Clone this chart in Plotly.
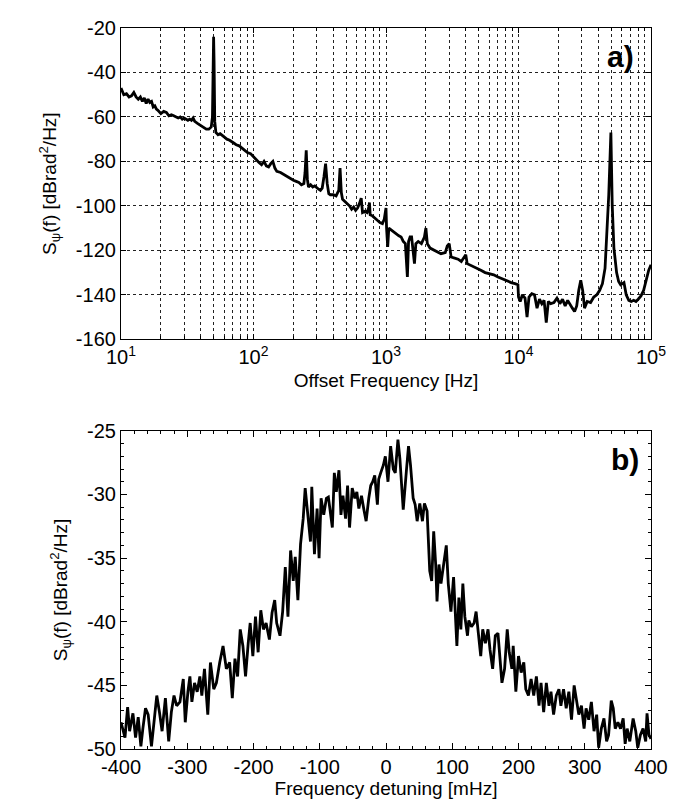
import plotly.graph_objects as go
from plotly.subplots import make_subplots

# ---------------- Panel a) phase noise spectrum ----------------
freq_hz = [10.0, 10.5, 11.0, 11.5, 12.0, 12.5, 13.0, 13.5, 14.0, 14.5, 15.0, 15.5, 16.0, 16.5,
           17.0, 17.5, 18.0, 18.5, 19.0, 20.0, 21.0, 22.0, 23.0, 24.0, 25.0, 26.0, 27.0, 28.0,
           29.0, 30.0, 31.0, 32.0, 33.0, 34.0, 35.0, 36.0, 38.0, 40.0, 42.0, 44.0, 46.0, 48.0,
           49.0, 49.6, 50.0, 50.4, 51.0, 52.0, 54.0, 56.0, 58.0, 60.0, 63.0, 66.0, 70.0, 74.0,
           78.0, 82.0, 86.0, 90.0, 95.0, 100.0, 105.0, 110.0, 115.0, 120.0, 125.0, 130.0, 135.0,
           140.0, 145.0, 150.0, 160.0, 170.0, 180.0, 190.0, 200.0, 210.0, 220.0, 230.0, 240.0,
           245.0, 250.0, 255.0, 260.0, 270.0, 280.0, 290.0, 300.0, 310.0, 320.0, 330.0, 340.0,
           350.0, 360.0, 370.0, 380.0, 400.0, 420.0, 440.0, 450.0, 460.0, 470.0, 490.0, 510.0,
           530.0, 550.0, 570.0, 590.0, 610.0, 630.0, 650.0, 665.0, 690.0, 720.0, 740.0, 750.0,
           760.0, 790.0, 820.0, 860.0, 900.0, 940.0, 970.0, 990.0, 1000.0, 1010.0, 1030.0,
           1050.0, 1100.0, 1150.0, 1200.0, 1250.0, 1300.0, 1350.0, 1400.0, 1430.0, 1450.0,
           1480.0, 1520.0, 1560.0, 1600.0, 1640.0, 1680.0, 1750.0, 1850.0, 1950.0, 2000.0,
           2050.0, 2150.0, 2300.0, 2450.0, 2600.0, 2800.0, 2900.0, 3000.0, 3100.0, 3300.0,
           3500.0, 3700.0, 3900.0, 4000.0, 4100.0, 4400.0, 4800.0, 5200.0, 5600.0, 6000.0,
           6500.0, 7000.0, 7600.0, 8200.0, 8800.0, 9400.0, 9900.0, 10000.0, 10300.0, 10700.0,
           11200.0, 11600.0, 12000.0, 12600.0, 13200.0, 13800.0, 14400.0, 15000.0, 15600.0,
           16200.0, 16800.0, 17500.0, 18500.0, 19500.0, 20500.0, 21500.0, 22500.0, 23500.0,
           24500.0, 25500.0, 26500.0, 27500.0, 28500.0, 29500.0, 30500.0, 31500.0, 33000.0,
           35000.0, 37000.0, 39000.0, 41000.0, 43000.0, 45000.0, 46500.0, 48000.0, 49800.0,
           51000.0, 52500.0, 55000.0, 57000.0, 59000.0, 62500.0, 65000.0, 68000.0, 71000.0,
           74000.0, 77000.0, 80000.0, 84000.0, 88000.0, 92000.0, 96000.0, 100000.0]
s_psi_a = [-47, -50, -49.5, -51, -50.5, -49, -51, -52, -51, -53, -51.5, -54, -52, -53.5,
           -53, -55.5, -55, -56.5, -57, -58.5, -57.5, -58, -59.5, -59, -59.5, -60, -60.5, -60,
           -61, -60.5, -61, -61.5, -61, -61.5, -60.5, -62, -63, -64, -65, -65.5, -65.5, -64.5,
           -60, -35, -24, -35, -62, -67, -68, -67.5, -68.5, -69, -70, -70.5, -71.5, -72.5,
           -73, -74, -75, -76, -76.5, -78, -79, -80.5, -81.5, -80, -82, -82.5, -81,
           -80, -83, -84.5, -85, -86, -87, -87.5, -88.5, -89, -89.5, -90.5, -90,
           -85, -75, -88, -91.5, -90.5, -91.5, -91, -92, -92.5, -93, -92, -87,
           -81, -90, -94.5, -95, -95, -95.5, -93, -83, -94, -97, -98, -99,
           -100, -101.5, -100.5, -102, -101, -99, -96.5, -103, -102.5, -103, -101, -98.5,
           -104, -104.5, -105.5, -106.5, -107.5, -108, -106, -102, -101, -110, -118.5,
           -110, -111, -112, -113, -113.5, -114, -116, -117, -125, -132,
           -116, -114, -114, -120, -126, -117, -116, -117, -114, -110,
           -117, -119, -120, -121, -121.5, -121, -118, -117, -123, -123.5,
           -124, -125, -123, -122, -126, -127, -128, -129, -130, -130.5,
           -131, -132, -133, -134, -134.5, -135, -135.5, -141, -143, -140,
           -141.5, -150, -141, -139.5, -140, -146, -142, -144, -142.5,
           -152.5, -143, -144, -143.5, -141.5, -144, -142, -145, -142.5,
           -144, -146, -147.5, -145, -138, -133.5, -138, -146, -143,
           -143.5, -141, -140, -138, -135, -128, -112, -95, -67,
           -100, -119, -130, -134, -135.5, -134.5, -140, -142.5, -143,
           -142.5, -143, -142, -140.5, -138, -133, -129, -126.5]

# ---------------- Panel b) spectrum around carrier ----------------
detuning_mhz = [-400, -394, -390, -387, -382, -378, -374, -370, -367, -363, -359, -354, -349, -346,
                -342, -338, -333, -328, -324, -320, -316, -311, -306, -303, -299, -296, -293, -289,
                -285, -281, -278, -274, -269, -265, -260, -256, -251, -246, -241, -236, -232, -228,
                -224, -220, -216, -212, -208, -205, -201, -197, -193, -189, -185, -181, -176, -172,
                -168, -165, -160, -156, -152, -148, -144, -140, -137, -133, -129, -125, -122, -118,
                -114, -112, -108, -104, -101, -98, -94, -90, -87, -81, -78, -75, -71, -68, -65,
                -61, -58, -55, -51, -47, -44, -41, -37, -33, -30, -26, -23, -20, -17, -13, -11,
                -8, -4, -1, 3, 7, 11, 14, 18, 21, 26, 31, 34, 37, 41, 44, 47, 51, 55, 58, 62, 66,
                69, 72, 75, 77, 80, 83, 87, 91, 94, 98, 102, 105, 107, 110, 113, 116, 119, 123,
                125, 129, 133, 136, 140, 143, 146, 150, 154, 157, 161, 165, 169, 172, 175, 179,
                183, 186, 190, 192, 196, 200, 204, 208, 211, 215, 219, 223, 227, 231, 234, 238,
                242, 246, 249, 253, 257, 261, 264, 268, 272, 276, 280, 284, 287, 291, 295, 299,
                302, 306, 310, 314, 318, 321, 325, 329, 333, 336, 340, 343, 346, 350, 354, 358,
                361, 364, 368, 373, 377, 380, 384, 388, 392, 394, 397, 400]
s_psi_b = [-47.9, -49.1, -46.7, -48.6, -47.2, -49.1, -47.5, -49.8, -48.4, -46.8, -47.3, -49.8, -47.3, -45.8,
           -47.1, -48.6, -46.0, -49.4, -47.1, -45.8, -46.6, -46.3, -44.5, -47.9, -45.5, -44.3, -46.3, -44.8,
           -45.5, -44.3, -45.8, -43.7, -47.3, -43.2, -45.3, -44.8, -43.2, -41.9, -43.7, -43.2, -46.0, -42.9,
           -44.3, -40.6, -41.9, -44.3, -41.7, -40.1, -42.7, -39.6, -42.4, -39.1, -40.6, -40.1, -41.4, -39.3,
           -38.3, -40.1, -41.1, -39.2, -35.7, -39.6, -34.4, -36.8, -34.9, -38.3, -33.9, -31.9, -29.5, -31.6,
           -33.7, -29.4, -34.7, -31.1, -35.0, -30.3, -31.6, -30.3, -30.2, -32.6, -28.3, -29.8, -28.1, -31.6, -30.1,
           -31.9, -29.3, -32.6, -29.5, -30.3, -29.8, -31.1, -30.1, -31.3, -32.1, -30.3, -29.3, -29.0, -28.5, -30.8, -28.8,
           -28.3, -27.7, -27.0, -29.0, -26.2, -28.0, -28.3, -25.7, -27.2, -31.2, -28.0, -26.2, -27.7, -30.3, -30.8, -32.1, -30.7, -32.1, -30.7, -31.3, -36.0,
           -36.8, -32.9, -35.5, -38.4, -35.5, -37.0, -35.5, -34.0, -37.0, -39.2, -36.5, -40.4, -41.9, -38.1, -40.6, -37.0, -39.6, -41.1,
           -39.9, -40.4, -40.1, -39.2, -41.1, -42.7, -40.6, -41.7, -40.6, -42.2, -43.7, -41.1, -40.9, -43.2, -44.8, -43.7,
           -40.6, -42.4, -43.7, -41.9, -45.5, -42.7, -44.0, -43.2, -45.3, -45.8, -44.5, -45.8, -44.3, -46.6, -44.8, -47.1,
           -44.8, -46.6, -45.5, -47.3, -45.8, -45.3, -46.6, -45.3, -46.8, -45.5, -47.7, -45.0, -46.1, -47.3, -46.6, -48.4,
           -46.8, -47.7, -46.3, -48.6, -47.3, -49.9, -48.4, -47.6, -49.4, -48.9, -46.2, -46.8, -48.4, -47.9, -48.4, -47.6,
           -49.6, -48.4, -49.4, -47.6, -48.6, -49.9, -48.9, -48.4, -49.4, -47.2, -48.9, -49.2]

# ---------------- Tick labels ----------------
x_tickvals_a = [10, 100, 1000, 10000, 100000]
x_ticktext_a = ["10<sup>1</sup>", "10<sup>2</sup>", "10<sup>3</sup>", "10<sup>4</sup>", "10<sup>5</sup>"]
y_tickvals_a = [-160, -140, -120, -100, -80, -60, -40, -20]
y_ticktext_a = ["-160", "-140", "-120", "-100", "-80", "-60", "-40", "-20"]
x_tickvals_b = [-400, -300, -200, -100, 0, 100, 200, 300, 400]
x_ticktext_b = ["-400", "-300", "-200", "-100", "0", "100", "200", "300", "400"]
y_tickvals_b = [-50, -45, -40, -35, -30, -25]
y_ticktext_b = ["-50", "-45", "-40", "-35", "-30", "-25"]

FONT = "Liberation Sans, Arial, Helvetica, sans-serif"
TICKSIZE = 20
TITLESIZE = 19
ytitle = "S<sub>ψ</sub>(f) [dBrad<sup>2</sup>/Hz]"

fig = make_subplots(rows=2, cols=1, vertical_spacing=0.127)

fig.add_trace(go.Scatter(x=freq_hz, y=s_psi_a, mode="lines",
                         line=dict(color="black", width=2.8), showlegend=False), row=1, col=1)
fig.add_trace(go.Scatter(x=detuning_mhz, y=s_psi_b, mode="lines",
                         line=dict(color="black", width=2.8), showlegend=False), row=2, col=1)

axis_common = dict(showline=True, linecolor="black", linewidth=1.2, mirror="allticks",
                   ticks="inside", tickcolor="black", tickwidth=1, zeroline=False,
                   tickfont=dict(size=TICKSIZE, color="black", family=FONT))

fig.update_xaxes(type="log", range=[1, 5], tickvals=x_tickvals_a, ticktext=x_ticktext_a,
                 showgrid=True, gridcolor="#222", griddash="dot", gridwidth=0.8, ticklen=5,
                 minor=dict(dtick="D1", showgrid=True, gridcolor="#222", griddash="dot",
                            gridwidth=0.8, ticks="inside", ticklen=3, tickcolor="black"),
                 title=dict(text="Offset Frequency [Hz]",
                            font=dict(size=TITLESIZE, family=FONT, color="black"), standoff=6),
                 domain=[0, 1], row=1, col=1, **axis_common)
fig.update_yaxes(range=[-160, -20], tickvals=y_tickvals_a, ticktext=y_ticktext_a,
                 showgrid=True, gridcolor="#222", griddash="dot", gridwidth=0.8, ticklen=5,
                 title=dict(text=ytitle, font=dict(size=TITLESIZE, family=FONT, color="black"),
                            standoff=14),
                 domain=[0.5683, 1.0], row=1, col=1, **axis_common)

fig.update_xaxes(range=[-400, 400], tickvals=x_tickvals_b, ticktext=x_ticktext_b,
                 showgrid=False, ticklen=6,
                 minor=dict(dtick=20, ticks="inside", ticklen=3, tickcolor="black"),
                 title=dict(text="Frequency detuning [mHz]",
                            font=dict(size=TITLESIZE, family=FONT, color="black"), standoff=2),
                 row=2, col=1, **axis_common)
fig.update_yaxes(range=[-50, -25], tickvals=y_tickvals_b, ticktext=y_ticktext_b,
                 showgrid=False, ticklen=6,
                 minor=dict(dtick=1, ticks="inside", ticklen=3, tickcolor="black"),
                 title=dict(text=ytitle, font=dict(size=TITLESIZE, family=FONT, color="black"),
                            standoff=14),
                 domain=[0, 0.4413], row=2, col=1, **axis_common)

fig.add_annotation(text="<b>a)</b>", x=0.943, y=0.960, xref="paper", yref="paper",
                   showarrow=False, font=dict(size=30, family=FONT, color="black"),
                   xanchor="center", yanchor="middle")
fig.add_annotation(text="<b>b)</b>", x=0.951, y=0.4016, xref="paper", yref="paper",
                   showarrow=False, font=dict(size=30, family=FONT, color="black"),
                   xanchor="center", yanchor="middle")

fig.update_layout(width=676, height=805, margin=dict(l=113, r=33, t=9, b=64),
                  paper_bgcolor="white", plot_bgcolor="white",
                  font=dict(family=FONT, color="black"))

fig.write_html("out.html")
